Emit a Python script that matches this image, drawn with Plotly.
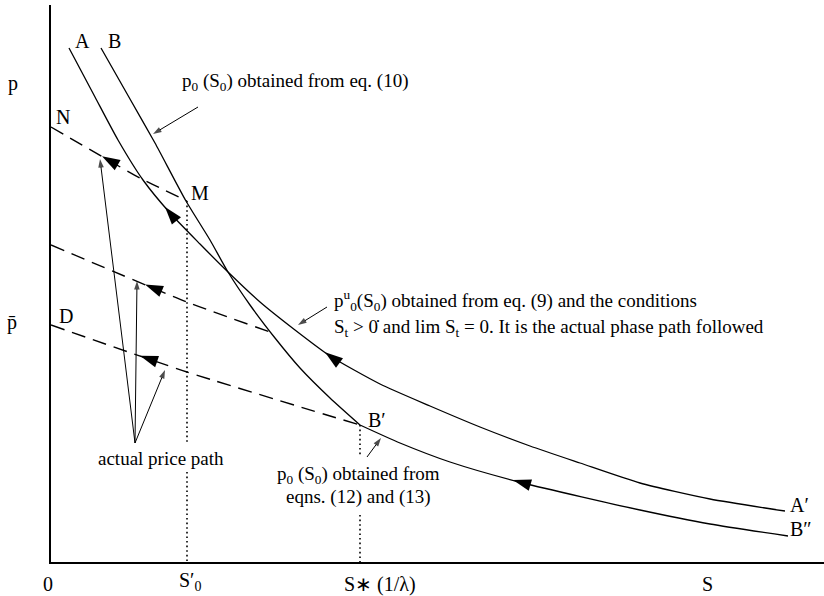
import math
import numpy as np
import plotly.graph_objects as go

# ---- diagram data (stock S horizontally, price p vertically, diagram units) ----
# curve A -> A' : p0^u(S0), the actual phase path
A_S = [18, 44, 67, 92, 119, 149, 177, 209, 244, 279, 329, 379, 429, 479, 529, 589, 659, 734]
A_p = [514, 465, 422, 382, 349, 318, 290, 260, 232, 206, 178, 156, 135, 116, 99, 79, 63, 51]

# curve B -> B' : p0(S0) from eq. (10)
B_S = [50, 79, 104, 135, 159, 177, 199, 224, 249, 279, 309]
B_p = [514, 463, 419, 361, 322, 290, 257, 224, 194, 164, 137]

# curve B' -> B'' : p0(S0) from eqns. (12) and (13)
B2_S = [309, 349, 399, 472, 589, 659, 737]
B2_p = [137, 119, 100, 79, 52, 38, 26]

# dashed price paths (N -> M, middle path, D -> B')
N_S, N_p = [0, 89, 136], [435, 384, 361]
MID_S, MID_p = [0, 136, 219], [317, 260, 230]
D_S, D_p = [0, 136, 309], [237, 190, 137]

S0_prime = 136   # S'0
S_star = 309     # S*(1/lambda)

# direction arrows placed along each path (S position of the arrow tip)
arrow_N, arrow_A_up, arrow_MID, arrow_D, arrow_A_low, arrow_B2 = 51, 114, 94, 89, 274, 462

# pointer lines from the captions: (tail S, tail p, tip S, tip p)
pointers = [
    (147, 455, 102, 428),   # caption eq. (10) -> curve B
    (276, 255, 247, 237),   # caption eq. (9) -> curve A
    (316, 105, 330, 124),   # caption eqns. (12), (13) -> B'B''
    (84, 119, 49, 403),     # actual price path -> N path
    (84, 119, 86, 281),     # actual price path -> middle path
    (84, 119, 114, 192),    # actual price path -> D path
]

W, H = 824, 596
ML, MR, MT, MB = 51, 0, 5, 34
S_MAX, P_MAX = 773, 557
px_S = (W - ML - MR) / S_MAX
px_p = (H - MT - MB) / P_MAX

FONT = "Liberation Serif"
INK = "black"

fig = go.Figure()


def path(xs, ys, dash="solid", width=1.3):
    fig.add_trace(go.Scatter(
        x=xs, y=ys, mode="lines",
        line=dict(color=INK, width=width, dash=dash, shape="spline", smoothing=0.6),
        hoverinfo="skip", showlegend=False))


path(A_S, A_p)
path(B_S, B_p)
path(B2_S, B2_p)
for xs, ys in [(N_S, N_p), (MID_S, MID_p), (D_S, D_p)]:
    path(xs, ys, dash="14px,8px", width=1.4)

# dotted drop lines from M and B' to the S axis (broken behind the captions)
fig.add_trace(go.Scatter(
    x=[S0_prime, S0_prime, None, S0_prime, S0_prime],
    y=[N_p[-1], 120, None, 90, 0],
    mode="lines", line=dict(color=INK, width=1.6, dash="1.6px,3px"),
    hoverinfo="skip", showlegend=False))
fig.add_trace(go.Scatter(
    x=[S_star, S_star, None, S_star, S_star],
    y=[D_p[-1], 107, None, 47, 0],
    mode="lines", line=dict(color=INK, width=1.6, dash="1.6px,3px"),
    hoverinfo="skip", showlegend=False))


def heading(xs, ys, s):
    h = 4.0
    slope = (np.interp(s + h, xs, ys) - np.interp(s - h, xs, ys)) / (2 * h)
    u = -px_S            # moving towards smaller S
    v = slope * px_p     # screen y grows downward
    return math.degrees(math.atan2(u, -v))


arrow_specs = [
    (N_S, N_p, arrow_N),
    (A_S, A_p, arrow_A_up),
    (MID_S, MID_p, arrow_MID),
    (D_S, D_p, arrow_D),
    (A_S, A_p, arrow_A_low),
    (B2_S, B2_p, arrow_B2),
]
ax_s = [s for _, _, s in arrow_specs]
ax_p = [float(np.interp(s, xs, ys)) for xs, ys, s in arrow_specs]
ax_ang = [heading(xs, ys, s) for xs, ys, s in arrow_specs]
fig.add_trace(go.Scatter(
    x=ax_s, y=ax_p, mode="markers",
    marker=dict(symbol="arrow", size=19, angle=ax_ang, color=INK, line=dict(width=0)),
    hoverinfo="skip", showlegend=False))

# thin pointer lines with small arrowheads
for sx, sy, tx, ty in pointers:
    fig.add_trace(go.Scatter(
        x=[sx, tx], y=[sy, ty], mode="lines+markers",
        line=dict(color=INK, width=1.0),
        marker=dict(symbol="arrow", size=[0, 9], angleref="previous",
                    color=INK, line=dict(width=0)),
        hoverinfo="skip", showlegend=False))

annotations = []


def label(text, x, y, size=19, xanchor="center"):
    annotations.append(dict(
        x=x, y=y, xref="x", yref="y", text=text, showarrow=False,
        xanchor=xanchor, yanchor="middle",
        font=dict(family=FONT, size=size, color=INK)))


def axis_label(text, x, y, size=20, xanchor="center"):
    # placed in paper units so it can sit outside the plotting area
    annotations.append(dict(
        x=x / S_MAX, y=y / P_MAX, xref="paper", yref="paper", text=text,
        showarrow=False, xanchor=xanchor, yanchor="middle",
        font=dict(family=FONT, size=size, color=INK)))


# point labels
label("A", 31, 521, size=20)
label("B", 63, 521, size=20)
label("N", 12, 445, size=20)
label("M", 149, 369, size=20)
label("D", 15, 246, size=20)
label("B′", 326, 142, size=20)
label("A′", 748, 57, size=20)
label("B″", 750, 33, size=20)

# captions
label("p<sub>0</sub> (S<sub>0</sub>) obtained from eq. (10)", 129, 480, xanchor="left")
label("p<sup>u</sup><sub>0</sub>(S<sub>0</sub>) obtained from eq. (9) and the conditions", 281, 262, xanchor="left")
label("S<sub>t</sub> > 0̇ and lim S<sub>t</sub> = 0. It is the actual phase path followed", 281, 234, xanchor="left")
label("actual price path", 110, 104)
label("p<sub>0</sub> (S<sub>0</sub>) obtained from", S_star - 2, 87)
label("eqns. (12) and (13)", S_star - 2, 65)

# axis labels
axis_label("p", -38, 479)
axis_label("p̄", -39, 240)
axis_label("0", -3, -22)
axis_label("S′<sub>0</sub>", S0_prime + 3, -19)
axis_label("S∗ (1/λ)", S_star - 18, -22, xanchor="left")
axis_label("S", 656, -22)

fig.update_layout(
    width=W, height=H, autosize=False,
    margin=dict(l=ML, r=MR, t=MT, b=MB, pad=0),
    paper_bgcolor="white", plot_bgcolor="white",
    showlegend=False,
    annotations=annotations,
    xaxis=dict(range=[0, S_MAX], showgrid=False, zeroline=False, showticklabels=False,
               ticks="", showline=True, linecolor=INK, linewidth=1.5, fixedrange=True),
    yaxis=dict(range=[0, P_MAX], showgrid=False, zeroline=False, showticklabels=False,
               ticks="", showline=True, linecolor=INK, linewidth=1.5, fixedrange=True),
)

fig.write_html("out.html")
